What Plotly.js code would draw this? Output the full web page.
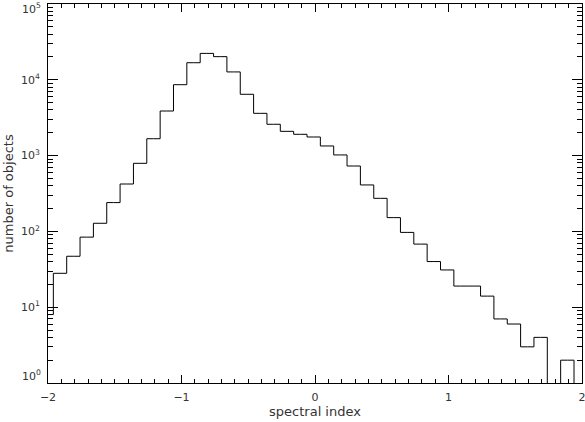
<!DOCTYPE html>
<html lang="en">
<head>
<meta charset="UTF-8">
<title>Spectral index histogram</title>
<script src="https://cdn.plot.ly/plotly-3.0.1.min.js"></script>
<style>
    body { margin: 0; background: #fff; }
    #chart { width: 585px; height: 422px; }
</style>
</head>
<body>
<div id="chart"></div>
<script>
    // histogram bin centres (bins 0.1 wide) and counts per bin
    const binCenters = [-2.01, -1.91, -1.81, -1.71, -1.61, -1.51, -1.41, -1.31, -1.21, -1.11,
                        -1.01, -0.91, -0.81, -0.71, -0.61, -0.51, -0.41, -0.31, -0.21, -0.11,
                        -0.01, 0.09, 0.19, 0.29, 0.39, 0.49, 0.59, 0.69, 0.79, 0.89,
                        0.99, 1.09, 1.19, 1.29, 1.39, 1.49, 1.59, 1.69, 1.79, 1.89, 1.99];
    const counts = [8, 28, 47, 84, 128, 240, 422, 791, 1670, 3875,
                    8620, 16800, 22300, 20200, 12700, 6440, 3610, 2590, 2090, 1910,
                    1760, 1340, 1020, 729, 410, 273, 152, 97, 68, 40,
                    31, 19, 19, 14, 7, 6, 3, 4, 0, 2, 0];

    const xTickVals = [-2, -1, 0, 1, 2];
    const xTickText = ['\u22122', '\u22121', '0', '1', '2'];

    const yTickVals = [1, 10, 100, 1000, 10000, 100000];
    const yTickText = ['10<sup>0</sup>', '10<sup>1</sup>', '10<sup>2</sup>',
                       '10<sup>3</sup>', '10<sup>4</sup>', '10<sup>5</sup>'];

    // minor ticks 2..9 in every decade
    const yMinorVals = [];
    for (let d = 1; d < 100000; d *= 10) {
        for (let m = 2; m <= 9; m++) yMinorVals.push(m * d);
    }

    // empty bins sit below the log range so the step drops to the axis
    const yDraw = counts.map(c => c > 0 ? c : 0.1);

    const tickFont = { family: 'DejaVu Sans, sans-serif', size: 11, color: '#333' };
    const titleFont = { family: 'DejaVu Sans, sans-serif', size: 13, color: '#333' };

    // first and last y labels are pulled inside the frame, like the original
    const axisText = yTickText.map((t, i) => (i === 0 || i === yTickText.length - 1) ? '' : t);
    const endLabels = [
        { text: yTickText[0], xref: 'paper', yref: 'paper', x: 0, y: 0,
          xanchor: 'right', yanchor: 'bottom', xshift: -6, yshift: -1 },
        { text: yTickText[yTickText.length - 1], xref: 'paper', yref: 'paper', x: 0, y: 1,
          xanchor: 'right', yanchor: 'top', xshift: -6, yshift: 4 }
    ].map(a => Object.assign(a, { showarrow: false, font: tickFont, borderpad: 0 }));

    const trace = {
        x: binCenters,
        y: yDraw,
        type: 'scatter',
        mode: 'lines',
        line: { shape: 'hvh', color: '#000', width: 1 },
        hoverinfo: 'skip'
    };

    const layout = {
        width: 585,
        height: 422,
        margin: { l: 48, r: 3, t: 4, b: 39 },
        paper_bgcolor: '#fff',
        plot_bgcolor: '#fff',
        showlegend: false,
        font: tickFont,
        annotations: endLabels,
        xaxis: {
            range: [-2, 2],
            tickmode: 'array',
            tickvals: xTickVals,
            ticktext: xTickText,
            ticks: 'inside',
            ticklen: 8,
            tickcolor: '#000',
            showline: true,
            linecolor: '#000',
            linewidth: 1,
            mirror: 'ticks',
            showgrid: false,
            zeroline: false,
            tickfont: tickFont,
            ticklabeloverflow: 'allow',
            ticklabelstandoff: 4,
            minor: { tick0: 0, dtick: 0.1, ticks: 'inside', ticklen: 4, tickcolor: '#000', showgrid: false },
            title: { text: 'spectral index', font: titleFont, standoff: 0 }
        },
        yaxis: {
            type: 'log',
            range: [0, 5],
            tickmode: 'array',
            tickvals: yTickVals,
            ticktext: axisText,
            ticks: 'inside',
            ticklen: 10,
            tickcolor: '#000',
            showline: true,
            linecolor: '#000',
            linewidth: 1,
            mirror: 'ticks',
            showgrid: false,
            zeroline: false,
            tickfont: tickFont,
            ticklabeloverflow: 'allow',
            ticklabelstandoff: 5,
            minor: { tickmode: 'array', tickvals: yMinorVals, ticks: 'inside', ticklen: 5, tickcolor: '#000', showgrid: false },
            title: { text: 'number of objects', font: titleFont, standoff: 4 }
        }
    };

    Plotly.newPlot('chart', [trace], layout, { displayModeBar: false, staticPlot: true });
</script>
</body>
</html>
